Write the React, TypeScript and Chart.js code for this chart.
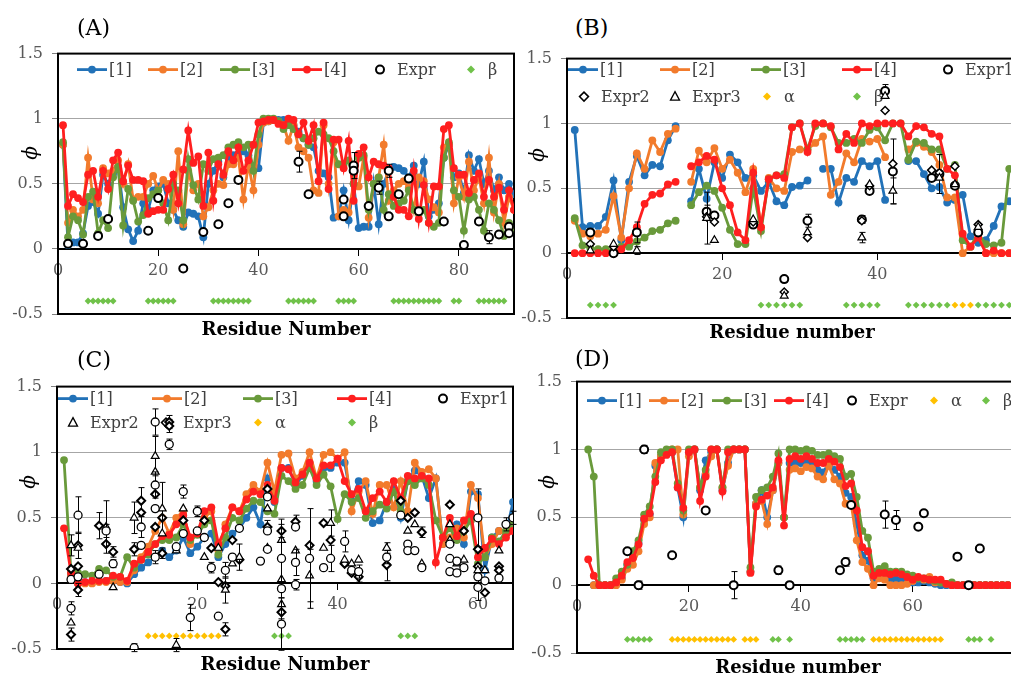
import React, { useEffect, useRef } from 'react';
import { Chart, registerables } from 'chart.js';

Chart.register(...registerables);

const FONT = "'DejaVu Serif', serif";
const C1 = '#2272B8';
const C2 = '#F27B2C';
const C3 = '#699A3B';
const C4 = '#FF1F1F';
const ALPHA_C = '#FFC000';
const BETA_C = '#70C24A';
const SS_LEVEL = -0.4;

// ---------------- Panel A ----------------
const a1 = [0.80,0.03,0.05,0.05,0.12,0.33,0.36,0.27,0.57,0.50,
  0.58,0.62,0.32,0.15,0.06,0.14,0.35,0.30,0.45,0.48,
  0.50,0.35,0.30,0.22,0.17,0.28,0.27,0.25,0.09,0.50,
  0.60,0.67,0.55,0.70,0.72,0.73,0.75,0.72,0.63,0.62,
  0.97,0.98,0.99,0.99,0.99,0.98,0.95,0.90,0.85,0.80,
  0.78,0.60,0.58,0.55,0.24,0.25,0.45,0.22,0.50,0.16,
  0.17,0.17,0.50,0.19,0.50,0.60,0.63,0.62,0.60,0.55,
  0.64,0.50,0.67,0.25,0.30,0.35,0.70,0.80,0.55,0.58,
  0.43,0.72,0.60,0.69,0.50,0.60,0.45,0.55,0.45,0.50,0.42];
const a2 = [0.80,0.20,0.30,0.25,0.30,0.70,0.38,0.35,0.62,0.58,
  0.60,0.68,0.50,0.65,0.38,0.40,0.40,0.50,0.56,0.45,
  0.53,0.50,0.30,0.75,0.19,0.60,0.45,0.50,0.25,0.32,
  0.45,0.50,0.49,0.65,0.65,0.70,0.38,0.65,0.45,0.80,
  0.97,0.98,0.99,0.98,0.95,0.83,0.95,0.78,0.75,0.70,
  0.45,0.43,0.95,0.50,0.82,0.25,0.30,0.28,0.50,0.48,
  0.70,0.24,0.50,0.55,0.80,0.37,0.45,0.50,0.52,0.47,
  0.30,0.55,0.52,0.38,0.32,0.28,0.78,0.80,0.35,0.55,
  0.40,0.67,0.45,0.55,0.35,0.70,0.28,0.50,0.20,0.40,0.30];
const a3 = [0.82,0.09,0.25,0.22,0.11,0.40,0.44,0.12,0.22,0.16,
  0.55,0.63,0.18,0.46,0.37,0.21,0.26,0.39,0.42,0.45,
  0.35,0.22,0.50,0.45,0.22,0.69,0.49,0.38,0.65,0.60,
  0.69,0.70,0.72,0.78,0.80,0.82,0.78,0.80,0.60,0.88,
  1.00,1.00,1.00,0.98,0.92,0.95,0.92,0.88,0.85,0.80,
  0.85,0.90,0.88,0.85,0.75,0.65,0.65,0.68,0.50,0.70,
  0.72,0.30,0.50,0.55,0.30,0.42,0.33,0.35,0.37,0.45,
  0.30,0.27,0.30,0.20,0.17,0.20,0.70,0.82,0.45,0.40,
  0.14,0.38,0.40,0.30,0.14,0.35,0.30,0.22,0.10,0.20,0.15];
const a4 = [0.95,0.33,0.42,0.39,0.36,0.57,0.60,0.40,0.60,0.46,
  0.68,0.74,0.52,0.64,0.53,0.53,0.52,0.27,0.29,0.30,
  0.30,0.46,0.57,0.35,0.61,0.91,0.66,0.71,0.33,0.74,
  0.37,0.65,0.57,0.75,0.68,0.78,0.60,0.68,0.80,0.97,
  0.98,0.99,0.99,0.96,0.95,1.00,0.99,0.88,0.97,0.83,
  0.95,0.52,0.97,0.46,0.84,0.84,0.62,0.83,0.37,0.73,
  0.78,0.55,0.67,0.65,0.64,0.62,0.40,0.30,0.30,0.25,
  0.60,0.23,0.49,0.20,0.48,0.48,0.92,0.95,0.62,0.57,
  0.57,0.43,0.53,0.58,0.40,0.53,0.40,0.47,0.30,0.45,0.30];
const aExprX = [2,5,8,10,18,20,25,29,32,34,36,48,50,57,57,59,59,62,64,66,66,68,70,72,77,81,84,86,88,90,90];
const aExprY = [0.04,0.04,0.10,0.23,0.14,0.39,-0.15,0.13,0.19,0.35,0.53,0.67,0.42,0.38,0.25,0.64,0.60,0.33,0.47,0.25,0.60,0.42,0.54,0.29,0.21,0.03,0.21,0.09,0.11,0.17,0.12];
const aExprErr = [0,0,0,0,0,0,0,0,0,0,0,0.08,0,0,0,0.1,0,0,0.05,0,0.05,0,0,0,0,0,0,0.05,0,0,0];
const aBeta = [6,7,8,9,10,11,18,19,20,21,22,23,31,32,33,34,35,36,37,38,46,47,48,49,50,51,56,57,58,59,67,68,69,70,71,72,73,74,75,76,79,80,84,85,86,87,88,89];

// ---------------- Panel B ----------------
const b1 = [0.95,0.20,0.21,0.21,0.28,0.56,0.10,0.55,0.75,0.60,
  0.68,0.67,0.87,0.98,null,0.40,0.65,0.42,0.70,0.58,
  0.76,0.70,0.58,0.60,0.48,0.55,0.40,0.37,0.51,0.52,
  0.56,null,0.65,0.65,0.39,0.58,0.55,0.71,0.67,0.71,
  0.41,null,null,0.71,0.71,0.61,0.50,0.51,0.39,0.41,
  0.45,0.13,0.08,0.10,0.21,0.36,0.40,0.42];
const b2 = [0.25,0.15,0.13,0.15,0.18,0.44,0.12,0.50,0.77,0.65,
  0.87,0.78,0.92,0.96,null,0.55,0.79,0.70,0.81,0.65,
  0.72,0.62,0.47,0.65,0.20,0.58,0.50,0.48,0.78,0.80,
  0.80,0.85,0.90,0.45,0.55,0.77,0.70,0.88,0.86,0.88,
  0.74,null,null,0.80,0.85,0.82,0.78,0.68,0.43,0.43,
  0.00,0.05,0.15,0.00,0.00,0.00,0.00,0.00];
const b3 = [0.27,0.06,0.04,0.03,0.03,0.02,0.05,0.05,0.09,0.12,
  0.17,0.18,0.23,0.25,null,0.37,0.47,0.52,0.48,0.35,
  0.18,0.07,0.07,0.50,0.17,0.57,0.60,0.61,0.97,1.00,
  0.80,0.98,1.00,0.97,0.85,0.85,0.88,0.85,0.95,0.97,
  0.87,1.00,1.00,0.72,0.86,0.85,0.80,0.80,0.65,0.68,
  0.10,0.05,0.15,0.07,0.06,0.08,0.65,0.60];
const b4 = [0.00,0.00,0.00,0.00,0.00,0.00,0.03,0.10,0.20,0.38,
  0.45,0.46,0.53,0.55,null,0.67,0.70,0.75,0.72,0.50,
  0.37,0.16,0.10,0.62,0.20,0.57,0.60,0.58,0.97,1.00,
  0.78,1.00,1.00,0.98,0.80,0.92,0.85,1.00,0.98,1.00,
  1.00,1.00,1.00,0.90,0.98,0.97,0.92,0.90,0.65,0.60,
  0.15,0.05,0.12,0.00,0.02,0.00,0.00,0.00];
const bE1X = [3,6,9,18,19,24,28,31,38,39,41,42,47,48,50,53];
const bE1Y = [0.16,0.00,0.16,0.32,0.29,0.22,-0.20,0.25,0.26,0.48,1.25,0.63,0.58,0.61,0.52,0.16];
const bE1Err = [0,0,0.08,0.05,0,0.02,0.02,0.05,0.03,0,0.05,0.25,0,0.15,0,0];
const bE2X = [3,6,18,19,24,28,31,38,39,41,42,47,48,50,53];
const bE2Y = [0.07,0.05,0.28,0.24,0.24,-0.30,0.12,0.25,0.52,1.10,0.69,0.64,0.62,0.67,0.22];
const bE3X = [3,6,9,18,19,24,28,31,38,39,41,42,48,50,53];
const bE3Y = [0.02,0.07,0.02,0.27,0.10,0.26,-0.33,0.16,0.12,0.53,1.21,0.48,0.58,0.53,0.20];
const bE3Err = [0,0,0.03,0.2,0,0,0,0,0.04,0,0,0.1,0,0,0];
const bBeta = [3,4,5,6,25,26,27,28,29,30,36,37,38,39,40,44,45,46,47,48,49,53,54,55,56,57,58];
const bAlpha = [50,51,52];

// ---------------- Panel C ----------------
const c1 = [null,0.05,0.00,0.01,0.01,0.02,0.02,0.02,0.01,0.00,
  0.07,0.12,0.16,0.20,0.25,0.20,0.25,0.35,0.23,0.28,
  0.35,0.38,0.20,0.30,0.38,0.42,0.50,0.58,0.45,0.80,
  0.62,0.88,0.88,0.75,0.82,0.92,0.78,0.88,0.88,0.92,
  0.92,0.63,0.78,0.75,0.46,0.48,0.62,0.72,0.50,0.78,
  0.86,0.82,0.65,0.80,0.30,0.30,0.45,0.30,0.70,0.68,
  0.10,0.35,0.40,0.38,0.62];
const c2 = [null,0.05,0.00,0.00,0.00,0.01,0.01,0.02,0.01,0.01,
  0.10,0.20,0.28,0.40,0.50,0.38,0.50,0.55,0.30,0.40,
  0.50,0.55,0.25,0.45,0.58,0.55,0.68,0.75,0.70,0.92,
  0.70,0.98,0.99,0.80,0.85,1.00,0.80,0.98,1.00,0.95,
  1.00,0.55,0.70,0.78,0.53,0.75,0.75,0.58,0.78,0.55,
  0.92,0.85,0.87,0.80,0.30,0.35,0.42,0.35,0.75,0.65,
  0.20,0.30,0.40,0.38,0.45];
const c3 = [0.94,0.08,0.08,0.07,0.06,0.11,0.10,0.05,0.05,0.20,
  0.12,0.18,0.22,0.30,0.33,0.33,0.35,0.45,0.33,0.37,
  0.45,0.48,0.22,0.35,0.50,0.48,0.57,0.63,0.62,0.55,
  0.53,0.82,0.78,0.72,0.75,0.88,0.75,0.83,0.74,0.49,
  0.68,0.62,0.65,0.50,0.55,0.60,0.57,0.70,0.55,0.78,
  0.75,0.80,0.75,0.48,0.35,0.42,0.33,0.40,0.48,0.15,
  0.20,0.35,0.32,0.40,0.45];
const c4 = [0.42,0.08,0.00,0.01,0.02,0.02,0.02,0.06,0.05,0.02,
  0.15,0.18,0.24,0.30,0.36,0.37,0.45,0.52,0.35,0.38,
  0.55,0.58,0.30,0.42,0.58,0.55,0.64,0.70,0.68,0.75,
  0.63,0.88,0.87,0.77,0.83,0.92,0.80,0.90,0.90,0.95,
  0.78,0.68,0.72,0.55,0.65,0.70,0.62,0.78,0.65,0.82,
  0.80,0.82,0.80,0.16,0.35,0.50,0.36,0.48,0.53,0.20,
  0.27,0.34,0.30,0.35,0.40];
const cE1X = [2,2,3,3,6,7,8,11,12,12,14,14,14,14,16,17,18,18,19,20,20,21,22,23,24,25,26,29,30,30,30,32,32,32,34,34,34,36,38,39,41,42,43,47,49,50,50,51,52,56,56,56,57,57,58,60,60,60,61,63,64,65];
const cE1Y = [0.03,-0.19,0.52,0.05,0.07,0.40,0.15,-0.49,0.43,0.29,1.23,0.75,0.57,0.20,1.06,0.28,0.70,0.38,-0.26,0.55,0.40,0.35,0.12,-0.25,0.10,0.20,0.42,0.17,0.66,0.40,0.26,0.19,-0.04,-0.31,0.43,0.16,-0.01,0.19,0.12,0.19,0.32,0.10,0.09,0.20,0.52,0.30,0.25,0.25,0.12,0.30,0.19,0.09,0.08,0.17,0.12,0.50,0.05,-0.03,0.02,0.04,0.45,0.50];
const cE1Err = [0,0.05,0.14,0,0,0.05,0.03,0.03,0.08,0,0.1,0.1,0,0.05,0.04,0,0.05,0,0.1,0.04,0,0,0.04,0,0.06,0,0,0,0,0,0,0.3,0,0.2,0,0.1,0.04,0.38,0,0.1,0.08,0,0.05,0.05,0,0,0,0,0,0,0,0,0,0,0,0.22,0,0.1,0,0,0.05,0.05];
const cE2X = [2,2,3,7,8,11,14,14,15,15,17,17,18,21,23,24,25,26,30,30,32,32,32,34,36,38,39,41,42,43,47,50,51,52,56,56,57,58,60,61,63];
const cE2Y = [0.29,-0.30,0.27,0.43,-0.03,0.50,0.97,0.85,0.57,0.38,0.25,-0.47,0.57,0.20,0.27,-0.05,0.15,0.20,0.57,0.27,0.33,0.03,-0.16,0.25,0.06,0.27,0.46,0.18,0.15,0.18,0.27,0.40,0.45,0.15,0.45,0.33,0.15,0.18,0.10,0.10,0.25];
const cE2Err = [0.08,0,0,0.2,0,0.12,0.15,0,0.2,0,0,0.05,0,0,0,0.1,0,0.1,0,0,0,0,0,0,0.2,0,0.1,0,0,0,0.04,0,0,0,0,0,0,0,0,0,0];
const cE3X = [2,2,3,3,3,6,7,8,11,12,12,14,14,15,15,16,16,18,21,22,23,24,24,25,26,30,30,32,32,34,36,38,39,41,42,43,47,49,50,51,52,56,58,60,60,61,63,63];
const cE3Y = [0.11,-0.39,0.29,0.13,-0.05,0.44,0.30,0.24,0.26,0.63,0.54,0.68,0.43,0.50,0.23,1.23,1.20,0.48,0.48,0.27,0.01,-0.02,-0.35,0.33,0.18,0.72,0.43,0.40,-0.22,0.47,0.29,0.46,0.33,0.15,0.08,0.05,0.14,0.63,0.50,0.54,0.39,0.60,0.40,0.26,0.13,-0.07,0.13,0.10];
const cE3Err = [0,0.05,0.1,0,0.05,0.1,0,0.04,0.05,0.1,0,0,0,0,0.04,0.05,0.05,0,0,0,0,0,0.05,0,0,0,0.05,0.05,0.05,0.05,0,0,0,0,0,0.04,0.12,0,0,0,0.04,0,0,0,0,0,0,0];
const cAlpha = [13,14,15,16,17,18,19,20,21,22,23];
const cBeta = [31,32,33,49,50,51];

// ---------------- Panel D ----------------
const d1 = [null,null,0.00,0.00,0.00,0.00,0.01,0.05,0.15,0.22,
  0.31,0.48,0.52,0.88,0.95,0.97,0.98,0.72,0.50,0.98,
  1.00,0.70,0.92,0.98,1.00,0.70,0.90,1.00,1.00,1.00,
  0.10,0.60,0.70,0.50,0.70,0.90,0.50,0.90,0.90,0.90,
  0.92,0.90,0.85,0.83,0.90,0.85,0.80,0.68,0.65,0.45,
  0.22,0.18,0.05,0.07,0.06,0.05,0.04,0.04,0.03,0.02,
  0.02,0.03,0.02,0.01,0.00,0.00,0.00,0.00,0.00,0.00,
  0,0,0,0,0,0,0,0,0];
const d2 = [null,null,0.00,0.00,0.00,0.00,0.00,0.04,0.12,0.15,
  0.25,0.45,0.50,0.90,0.95,0.98,1.00,1.00,0.52,0.95,
  1.00,0.72,0.82,0.95,1.00,0.72,0.88,1.00,1.00,1.00,
  0.10,0.60,0.62,0.45,0.70,0.90,0.50,0.85,0.86,0.84,
  0.87,0.86,0.80,0.78,0.88,0.78,0.75,0.60,0.60,0.33,
  0.17,0.12,0.00,0.05,0.04,0.00,0.00,0.00,0.01,0.03,
  0.05,0.04,0.06,0.02,0.02,0.01,0.01,0.00,0.00,0.00,
  0,0,0,0,0,0,0,0,0];
const d3 = [null,1.00,0.80,0.00,0.00,0.00,0.05,0.10,0.15,0.25,
  0.33,0.52,0.58,0.80,0.98,1.00,1.00,0.75,0.55,1.00,
  1.00,0.72,0.85,1.00,1.00,0.72,1.00,1.00,1.00,1.00,
  0.13,0.65,0.70,0.72,0.80,0.97,0.50,1.00,1.00,0.99,
  1.00,0.99,0.96,0.96,0.97,0.95,0.93,0.80,0.82,0.65,
  0.40,0.35,0.10,0.12,0.14,0.10,0.10,0.10,0.08,0.07,
  0.05,0.05,0.04,0.03,0.02,0.01,0.02,0.00,0.00,0.00,
  0,0,0,0,0,0,0,0,0];
const d4 = [null,0.19,0.07,0.00,0.00,0.00,0.02,0.07,0.17,0.20,
  0.30,0.49,0.53,0.76,0.92,0.96,0.98,0.72,0.57,0.98,
  1.00,0.62,0.80,1.00,1.00,0.69,0.98,1.00,1.00,1.00,
  0.09,0.58,0.63,0.66,0.72,0.92,0.44,0.93,0.95,0.93,
  0.95,0.93,0.90,0.90,0.93,0.91,0.87,0.73,0.75,0.55,
  0.28,0.25,0.07,0.09,0.09,0.08,0.09,0.08,0.06,0.04,
  0.06,0.05,0.04,0.04,0.04,0.01,0.00,0.00,0.00,0.00,
  0,0,0,0,0,0,0,0,0];
const dExprX = [9,11,12,17,23,28,36,38,47,48,49,55,57,61,62,68,70,72];
const dExprY = [0.25,0.00,1.00,0.22,0.55,0.00,0.11,0.00,0.11,0.17,0.59,0.52,0.48,0.43,0.53,0.21,0.00,0.27];
const dExprErr = [0,0.03,0.03,0,0,0.1,0.03,0,0,0.03,0,0.1,0.07,0,0,0,0,0];
const dBeta = [9,10,11,12,13,35,36,38,47,48,49,50,51,70,71,72,74];
const dAlpha = [17,18,19,20,21,22,23,24,25,26,27,28,30,31,32,53,54,55,56,57,58,59,60,61,62,63,64,65];

// ---------------- helpers ----------------
function lineDs(label: string, values: (number | null)[], color: string, order: number) {
  return {
    label,
    data: values.map((v, i) => ({ x: i + 1, y: v })),
    showLine: true,
    borderColor: color,
    backgroundColor: color,
    borderWidth: 2.8,
    pointRadius: 3.9,
    pointHoverRadius: 3.9,
    pointBackgroundColor: color,
    pointBorderColor: color,
    pointBorderWidth: 0,
    spanGaps: false,
    order,
  };
}

function exprDs(label: string, xs: number[], ys: number[], errs: number[] | null, style: string, radius: number, bw: number) {
  return {
    label,
    data: xs.map((x, i) => ({ x, y: ys[i] })),
    showLine: false,
    pointStyle: style,
    pointRadius: radius,
    pointHoverRadius: radius,
    pointBackgroundColor: '#ffffff',
    pointBorderColor: '#000000',
    pointBorderWidth: bw,
    errors: errs,
    order: 0,
  };
}

function ssDs(label: string, residues: number[], color: string) {
  return {
    label,
    data: residues.map((r) => ({ x: r, y: SS_LEVEL })),
    showLine: false,
    pointStyle: 'rectRot',
    pointRadius: 3.4,
    pointHoverRadius: 3.4,
    pointBackgroundColor: color,
    pointBorderColor: color,
    pointBorderWidth: 0,
    order: 6,
  };
}

const errorBarPlugin = {
  id: 'errorBars',
  beforeDatasetDraw(chart: any, args: any) {
    const ds = chart.data.datasets[args.index];
    const errs = ds.errors;
    if (!errs) return;
    const ys = chart.scales.y;
    const ctx = chart.ctx;
    ctx.save();
    ctx.strokeStyle = '#000';
    ctx.lineWidth = 1;
    args.meta.data.forEach((pt: any, i: number) => {
      const e = errs[i];
      if (!e) return;
      const v = ds.data[i].y;
      const y1 = ys.getPixelForValue(v - e);
      const y2 = ys.getPixelForValue(v + e);
      const x = Math.round(pt.x) + 0.5;
      ctx.beginPath();
      ctx.moveTo(x, y1); ctx.lineTo(x, y2);
      ctx.moveTo(x - 3, y1); ctx.lineTo(x + 3, y1);
      ctx.moveTo(x - 3, y2); ctx.lineTo(x + 3, y2);
      ctx.stroke();
    });
    ctx.restore();
  },
};

const framePlugin = {
  id: 'frame',
  beforeDatasetsDraw(chart: any) {
    const { ctx, chartArea: a } = chart;
    ctx.save();
    ctx.strokeStyle = '#000';
    ctx.lineWidth = 2;
    ctx.strokeRect(a.left, a.top, a.right - a.left, a.bottom - a.top);
    ctx.restore();
  },
};

const inLegendPlugin = {
  id: 'inLegend',
  beforeDatasetsDraw(chart: any, _args: any, opts: any) {
    const items = (opts && opts.items) || [];
    const { ctx, chartArea: a } = chart;
    ctx.save();
    items.forEach((it: any) => {
      const x0 = a.left + it.dx;
      const y = a.top + it.dy;
      const cx = x0 + 15;
      if (it.t === 'line') {
        ctx.strokeStyle = it.c;
        ctx.lineWidth = 2.8;
        ctx.beginPath(); ctx.moveTo(x0, y); ctx.lineTo(x0 + 30, y); ctx.stroke();
        ctx.fillStyle = it.c;
        ctx.beginPath(); ctx.arc(cx, y, 3.9, 0, Math.PI * 2); ctx.fill();
      } else if (it.t === 'circle') {
        ctx.fillStyle = '#fff'; ctx.strokeStyle = '#000'; ctx.lineWidth = 2;
        ctx.beginPath(); ctx.arc(cx, y, 4, 0, Math.PI * 2); ctx.fill(); ctx.stroke();
      } else if (it.t === 'diamondOpen') {
        ctx.fillStyle = '#fff'; ctx.strokeStyle = '#000'; ctx.lineWidth = 1.5;
        ctx.beginPath(); ctx.moveTo(cx, y - 4.5); ctx.lineTo(cx + 4.5, y); ctx.lineTo(cx, y + 4.5); ctx.lineTo(cx - 4.5, y); ctx.closePath(); ctx.fill(); ctx.stroke();
      } else if (it.t === 'triangle') {
        ctx.fillStyle = '#fff'; ctx.strokeStyle = '#000'; ctx.lineWidth = 1.3;
        ctx.beginPath(); ctx.moveTo(cx, y - 5); ctx.lineTo(cx + 4.5, y + 3.5); ctx.lineTo(cx - 4.5, y + 3.5); ctx.closePath(); ctx.fill(); ctx.stroke();
      } else if (it.t === 'diamond') {
        ctx.fillStyle = it.c;
        ctx.beginPath(); ctx.moveTo(cx, y - 4); ctx.lineTo(cx + 4, y); ctx.lineTo(cx, y + 4); ctx.lineTo(cx - 4, y); ctx.closePath(); ctx.fill();
      }
      ctx.fillStyle = '#404040';
      ctx.font = `16px ${FONT}`;
      ctx.textBaseline = 'middle';
      ctx.textAlign = 'left';
      ctx.fillText(it.label, x0 + 32, y + 1);
    });
    ctx.restore();
  },
};

type PanelCfg = {
  left: number; top: number; w: number; h: number;
  xMax: number; xTitle: string; titlePad: number;
  datasets: any[]; legend: any[];
};

function buildConfig(p: PanelCfg): any {
  const tickFont = { family: FONT, size: 16 };
  return {
    type: 'scatter',
    data: { datasets: p.datasets },
    plugins: [framePlugin, errorBarPlugin, inLegendPlugin],
    options: {
      responsive: false,
      animation: false,
      events: [],
      layout: { padding: { left: 8, right: 3, top: 10, bottom: 5 } },
      plugins: {
        legend: { display: false },
        tooltip: { enabled: false },
        title: {
          display: true,
          text: p.xTitle,
          position: 'bottom',
          fullSize: false,
          color: '#000',
          font: { family: FONT, size: 18, weight: 'bold', lineHeight: '20px' },
          padding: { top: p.titlePad, bottom: 0 },
        },
        inLegend: { items: p.legend },
      },
      scales: {
        x: {
          type: 'linear',
          min: 0,
          max: p.xMax,
          position: { y: 0 },
          afterFit: (s: any) => { s.height = 0; },
          ticks: {
            stepSize: 20, includeBounds: false, autoSkip: false, maxRotation: 0,
            font: tickFont, color: '#595959', padding: 6,
            callback: (v: any) => String(v),
          },
          grid: { drawOnChartArea: false, drawTicks: true, tickLength: 6, color: '#000', tickColor: '#000', lineWidth: 1 },
          border: { display: true, color: '#000', width: 2 },
        },
        y: {
          type: 'linear',
          min: -0.5,
          max: 1.5,
          afterFit: (s: any) => { s.width = 50; },
          ticks: {
            stepSize: 0.5, font: tickFont, color: '#595959', padding: 9,
            callback: (v: any) => String(v),
          },
          grid: {
            color: (ctx: any) => (ctx.tick && (ctx.tick.value === 0.5 || ctx.tick.value === 1) ? '#A6A6A6' : 'rgba(0,0,0,0)'),
            lineWidth: 1, drawTicks: true, tickLength: 6, tickColor: '#808080',
          },
          border: { display: false },
        },
      },
    },
  };
}

function Panel({ p }: { p: PanelCfg }) {
  const ref = useRef<HTMLCanvasElement | null>(null);
  useEffect(() => {
    if (!ref.current) return;
    const chart = new Chart(ref.current, buildConfig(p));
    return () => chart.destroy();
  }, []);
  return (
    <canvas
      ref={ref}
      width={p.w}
      height={p.h}
      style={{ position: 'absolute', left: p.left, top: p.top, width: p.w, height: p.h }}
    />
  );
}

const lines = (s1: any[], s2: any[], s3: any[], s4: any[]) => [
  lineDs('[4]', s4, C4, 1),
  lineDs('[3]', s3, C3, 2),
  lineDs('[2]', s2, C2, 3),
  lineDs('[1]', s1, C1, 4),
];

const lineLegend = (xs: number[], dy: number) => [
  { t: 'line', c: C1, label: '[1]', dx: xs[0], dy },
  { t: 'line', c: C2, label: '[2]', dx: xs[1], dy },
  { t: 'line', c: C3, label: '[3]', dx: xs[2], dy },
  { t: 'line', c: C4, label: '[4]', dx: xs[3], dy },
];

const panelA: PanelCfg = {
  left: 0, top: 35, w: 520, h: 310, xMax: 91, xTitle: 'Residue Number', titlePad: 6,
  datasets: [
    ...lines(a1, a2, a3, a4),
    exprDs('Expr', aExprX, aExprY, aExprErr, 'circle', 4, 2),
    ssDs('β', aBeta, BETA_C),
  ],
  legend: [
    ...lineLegend([19, 90, 162, 234], 16),
    { t: 'circle', label: 'Expr', dx: 307, dy: 16 },
    { t: 'diamond', c: BETA_C, label: 'β', dx: 398, dy: 16 },
  ],
};

const panelB: PanelCfg = {
  left: 509, top: 40, w: 514, h: 308, xMax: 58, xTitle: 'Residue number', titlePad: 5,
  datasets: [
    ...lines(b1, b2, b3, b4),
    exprDs('Expr3', bE3X, bE3Y, bE3Err, 'triangle', 4.5, 1.2),
    exprDs('Expr2', bE2X, bE2Y, null, 'rectRot', 4, 1.5),
    exprDs('Expr1', bE1X, bE1Y, bE1Err, 'circle', 4, 2),
    ssDs('α', bAlpha, ALPHA_C),
    ssDs('β', bBeta, BETA_C),
  ],
  legend: [
    ...lineLegend([1, 93, 184, 275], 11),
    { t: 'circle', label: 'Expr1', dx: 366, dy: 11 },
    { t: 'diamondOpen', label: 'Expr2', dx: 2, dy: 38 },
    { t: 'triangle', label: 'Expr3', dx: 93, dy: 38 },
    { t: 'diamond', c: ALPHA_C, label: 'α', dx: 185, dy: 38 },
    { t: 'diamond', c: BETA_C, label: 'β', dx: 275, dy: 38 },
  ],
};

const panelC: PanelCfg = {
  left: -1, top: 368, w: 520, h: 312, xMax: 65, xTitle: 'Residue Number', titlePad: 6,
  datasets: [
    ...lines(c1, c2, c3, c4),
    exprDs('Expr1', cE1X, cE1Y, cE1Err, 'circle', 4, 1.3),
    exprDs('Expr2', cE2X, cE2Y, cE2Err, 'triangle', 4.5, 1.2),
    exprDs('Expr3', cE3X, cE3Y, cE3Err, 'rectRot', 4, 2),
    ssDs('α', cAlpha, ALPHA_C),
    ssDs('β', cBeta, BETA_C),
  ],
  legend: [
    ...lineLegend([1, 95, 186, 280], 12),
    { t: 'circle', label: 'Expr1', dx: 371, dy: 12 },
    { t: 'triangle', label: 'Expr2', dx: 1, dy: 36 },
    { t: 'diamondOpen', label: 'Expr3', dx: 94, dy: 36 },
    { t: 'diamond', c: ALPHA_C, label: 'α', dx: 186, dy: 36 },
    { t: 'diamond', c: BETA_C, label: 'β', dx: 280, dy: 36 },
  ],
};

const panelD: PanelCfg = {
  left: 519, top: 363, w: 506, h: 320, xMax: 79, xTitle: 'Residue number', titlePad: 5,
  datasets: [
    ...lines(d1, d2, d3, d4),
    exprDs('Expr', dExprX, dExprY, dExprErr, 'circle', 4, 2),
    ssDs('α', dAlpha, ALPHA_C),
    ssDs('β', dBeta, BETA_C),
  ],
  legend: [
    ...lineLegend([10, 72, 135, 197], 19),
    { t: 'circle', label: 'Expr', dx: 260, dy: 19 },
    { t: 'diamond', c: ALPHA_C, label: 'α', dx: 342, dy: 19 },
    { t: 'diamond', c: BETA_C, label: 'β', dx: 394, dy: 19 },
  ],
};

const panelLabels = [
  { text: '(A)', x: 77, y: 28 },
  { text: '(B)', x: 575, y: 28 },
  { text: '(C)', x: 77, y: 360 },
  { text: '(D)', x: 575, y: 359 },
];
const phiLabels = [
  { x: 30, y: 153 },
  { x: 537, y: 155 },
  { x: 28, y: 482 },
  { x: 547, y: 482 },
];

export default function App() {
  return (
    <div style={{ position: 'fixed', left: 0, top: 0, width: 1011, height: 675, overflow: 'hidden', background: '#fff' }}>
      {[panelA, panelB, panelC, panelD].map((p, i) => <Panel key={i} p={p} />)}
      {panelLabels.map((l, i) => (
        <div key={'l' + i} style={{ position: 'absolute', left: l.x, top: l.y, transform: 'translateY(-50%)', fontFamily: FONT, fontSize: 22, lineHeight: 1, color: '#000', whiteSpace: 'nowrap' }}>{l.text}</div>
      ))}
      {phiLabels.map((l, i) => (
        <div key={'p' + i} style={{ position: 'absolute', left: l.x, top: l.y, transform: 'translate(-50%, -50%) rotate(-90deg)', fontFamily: FONT, fontStyle: 'italic', fontSize: 20, lineHeight: 1, color: '#000' }}>ϕ</div>
      ))}
    </div>
  );
}
